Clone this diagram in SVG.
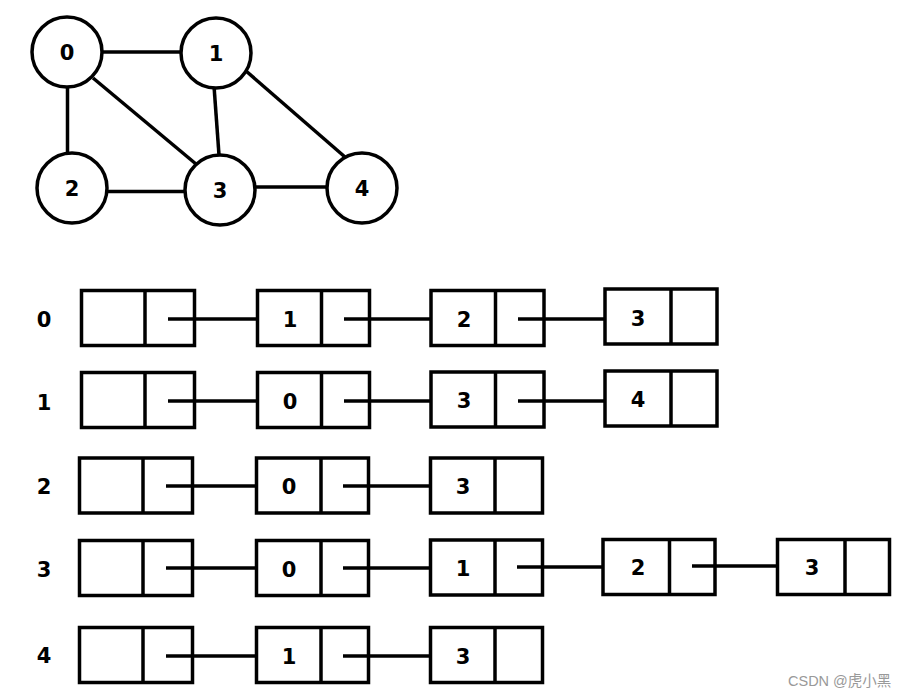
<svg xmlns="http://www.w3.org/2000/svg" width="903" height="698" viewBox="0 0 903 698">
<style>
.c{fill:#fff;stroke:#000;stroke-width:3.5}
.b{fill:#fff;stroke:#000;stroke-width:3.5}
.e{stroke:#000;stroke-width:3.5;fill:none}
.t{font-family:"DejaVu Sans","Liberation Sans",sans-serif;font-weight:bold;font-size:21px;text-anchor:middle;fill:#000}
.w{font-family:"Liberation Sans","Noto Sans CJK SC",sans-serif;font-size:14.5px;fill:#999}
</style>
<rect width="903" height="698" fill="#fff"/>
<g id="connectors">
<line class="e" x1="100" y1="52" x2="183" y2="52"/>
<line class="e" x1="67.5" y1="85" x2="67.5" y2="155"/>
<line class="e" x1="93" y1="78" x2="196" y2="164"/>
<line class="e" x1="214" y1="86" x2="219" y2="155"/>
<line class="e" x1="246" y1="71" x2="345" y2="157"/>
<line class="e" x1="104" y1="191.5" x2="186" y2="191.5"/>
<line class="e" x1="253" y1="187" x2="328" y2="187"/>
<line class="e" x1="168" y1="319" x2="257" y2="319"/>
<line class="e" x1="344" y1="319" x2="431" y2="319"/>
<line class="e" x1="518" y1="319" x2="605" y2="319"/>
<line class="e" x1="168" y1="401" x2="257" y2="401"/>
<line class="e" x1="344" y1="401" x2="431" y2="401"/>
<line class="e" x1="518" y1="401" x2="605" y2="401"/>
<line class="e" x1="166" y1="486" x2="256" y2="486"/>
<line class="e" x1="343" y1="486" x2="430" y2="486"/>
<line class="e" x1="166" y1="568" x2="256" y2="568"/>
<line class="e" x1="343" y1="568" x2="430" y2="568"/>
<line class="e" x1="517" y1="567" x2="603" y2="567"/>
<line class="e" x1="692" y1="566" x2="777" y2="566"/>
<line class="e" x1="166" y1="656" x2="256" y2="656"/>
<line class="e" x1="343" y1="656" x2="430" y2="656"/>
</g>
<g id="v0"><circle class="c" cx="67" cy="52" r="35"/><text class="t" x="67" y="59.5">0</text></g>
<g id="v1"><circle class="c" cx="216" cy="53" r="35"/><text class="t" x="216" y="60.5">1</text></g>
<g id="v2"><circle class="c" cx="72" cy="188" r="35"/><text class="t" x="72" y="195.5">2</text></g>
<g id="v3"><circle class="c" cx="220" cy="190" r="35"/><text class="t" x="220" y="197.5">3</text></g>
<g id="v4"><circle class="c" cx="362" cy="188" r="35"/><text class="t" x="362" y="195.5">4</text></g>
<g id="labels">
<text class="t" x="44" y="327">0</text>
<text class="t" x="44" y="410">1</text>
<text class="t" x="44" y="494">2</text>
<text class="t" x="44" y="577">3</text>
<text class="t" x="44" y="663">4</text>
</g>
<g id="h0"><rect class="b" x="81.5" y="290.5" width="113" height="55"/><line class="e" x1="145" y1="290" x2="145" y2="346"/></g>
<g id="r0n1"><rect class="b" x="257.5" y="290.5" width="112" height="55"/><line class="e" x1="321.5" y1="290" x2="321.5" y2="346"/><text class="t" x="290" y="326.5">1</text></g>
<g id="r0n2"><rect class="b" x="431" y="290.5" width="113" height="55"/><line class="e" x1="495.5" y1="290" x2="495.5" y2="346"/><text class="t" x="464" y="326.5">2</text></g>
<g id="r0n3"><rect class="b" x="605" y="289" width="112" height="55"/><line class="e" x1="671" y1="288" x2="671" y2="345"/><text class="t" x="638" y="325.5">3</text></g>
<line class="e" x1="168" y1="319" x2="195" y2="319"/>
<line class="e" x1="344" y1="319" x2="369" y2="319"/>
<line class="e" x1="518" y1="319" x2="544" y2="319"/>
<g id="h1"><rect class="b" x="81.5" y="372.5" width="113" height="55"/><line class="e" x1="145" y1="372" x2="145" y2="428"/></g>
<g id="r1n0"><rect class="b" x="257.5" y="372.5" width="112" height="55"/><line class="e" x1="321.5" y1="372" x2="321.5" y2="428"/><text class="t" x="290" y="408.5">0</text></g>
<g id="r1n3"><rect class="b" x="431" y="372" width="113" height="55"/><line class="e" x1="495.5" y1="371" x2="495.5" y2="428"/><text class="t" x="464" y="407.5">3</text></g>
<g id="r1n4"><rect class="b" x="605" y="371" width="112" height="55"/><line class="e" x1="671" y1="370" x2="671" y2="427"/><text class="t" x="638" y="406.5">4</text></g>
<line class="e" x1="168" y1="401" x2="195" y2="401"/>
<line class="e" x1="344" y1="401" x2="369" y2="401"/>
<line class="e" x1="518" y1="401" x2="544" y2="401"/>
<g id="h2"><rect class="b" x="79.5" y="458" width="113" height="55"/><line class="e" x1="143" y1="457" x2="143" y2="514"/></g>
<g id="r2n0"><rect class="b" x="256.5" y="458" width="112" height="55"/><line class="e" x1="321" y1="457" x2="321" y2="514"/><text class="t" x="289" y="493.5">0</text></g>
<g id="r2n3"><rect class="b" x="430.5" y="458" width="112" height="55"/><line class="e" x1="495" y1="457" x2="495" y2="514"/><text class="t" x="463" y="493.5">3</text></g>
<line class="e" x1="166" y1="486" x2="192" y2="486"/>
<line class="e" x1="343" y1="486" x2="368" y2="486"/>
<g id="h3"><rect class="b" x="79.5" y="540.5" width="113" height="55"/><line class="e" x1="143" y1="540" x2="143" y2="596"/></g>
<g id="r3n0"><rect class="b" x="256.5" y="540.5" width="112" height="55"/><line class="e" x1="321" y1="540" x2="321" y2="596"/><text class="t" x="289" y="576.5">0</text></g>
<g id="r3n1"><rect class="b" x="430.5" y="540" width="112" height="55"/><line class="e" x1="495" y1="539" x2="495" y2="596"/><text class="t" x="463" y="575.5">1</text></g>
<g id="r3n2"><rect class="b" x="603" y="539.5" width="112" height="55"/><line class="e" x1="669.5" y1="539" x2="669.5" y2="596"/><text class="t" x="638" y="574.5">2</text></g>
<g id="r3n3"><rect class="b" x="777.5" y="539.5" width="112" height="55"/><line class="e" x1="845" y1="539" x2="845" y2="596"/><text class="t" x="812" y="574.5">3</text></g>
<line class="e" x1="166" y1="568" x2="192" y2="568"/>
<line class="e" x1="343" y1="568" x2="368" y2="568"/>
<line class="e" x1="517" y1="567" x2="542" y2="567"/>
<line class="e" x1="692" y1="566" x2="715" y2="566"/>
<g id="h4"><rect class="b" x="79.5" y="627.5" width="113" height="55"/><line class="e" x1="143" y1="627" x2="143" y2="683"/></g>
<g id="r4n1"><rect class="b" x="256.5" y="627.5" width="112" height="55"/><line class="e" x1="321" y1="627" x2="321" y2="683"/><text class="t" x="289" y="663.5">1</text></g>
<g id="r4n3"><rect class="b" x="430.5" y="627.5" width="112" height="55"/><line class="e" x1="495" y1="627" x2="495" y2="683"/><text class="t" x="463" y="663.5">3</text></g>
<line class="e" x1="166" y1="656" x2="192" y2="656"/>
<line class="e" x1="343" y1="656" x2="368" y2="656"/>
<text class="w" x="788" y="686">CSDN @虎小黑</text>
</svg>
